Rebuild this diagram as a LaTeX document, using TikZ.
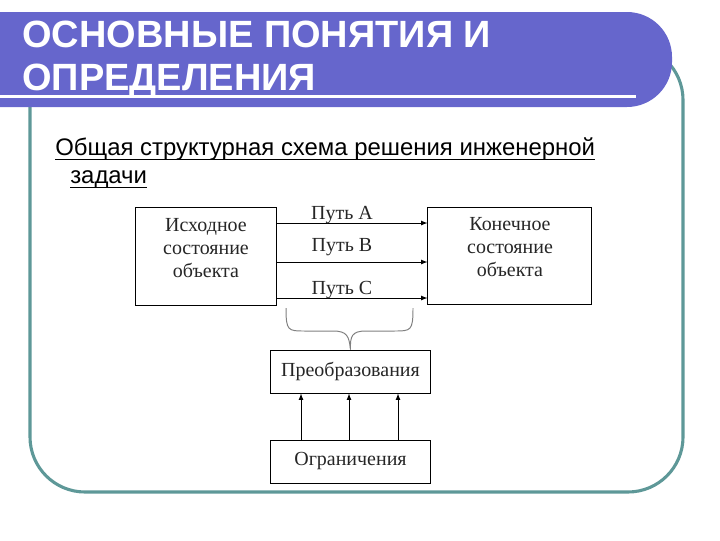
\documentclass[tikz,border=0pt]{standalone}
\usepackage{fontspec}
\setmainfont{Liberation Serif}
\newfontfamily\arialfont{Liberation Sans}
\usetikzlibrary{calc}
\definecolor{barblue}{RGB}{102,102,204}
\definecolor{frameteal}{RGB}{94,152,152}
\begin{document}
\begin{tikzpicture}[x=0.025cm,y=-0.025cm, >=latex,
  box/.style={draw, line width=0.7pt, inner sep=0},
  boxtext/.style={align=center, text=black!85, font=\fontsize{14.2}{16.4}\selectfont},
  pathlabel/.style={anchor=base, inner sep=0, text=black!85, font=\fontsize{14.2}{16}\selectfont},
  arr/.style={->, line width=0.6pt},
  title/.style={anchor=base west, inner sep=0, text=white, font=\arialfont\bfseries\fontsize{27}{32}\selectfont},
  sub/.style={anchor=base west, inner sep=0, font=\arialfont\fontsize{17}{20}\selectfont}]

  \useasboundingbox (0,0) rectangle (720,540);

  %ramme
	\draw[frameteal, line width=2.2pt, rounded corners=1.375cm] (30,45) rectangle (683,492);

  %overskrift
	\fill[barblue] (0,12) [rounded corners=1.125cm] -- (672,12) -- (672,107) [sharp corners] -- (0,107) -- cycle;
	\fill[white] (0,95) rectangle (636,98);
	\node[title] (t1) at (22,47) {ОСНОВНЫЕ ПОНЯТИЯ И};
	\node[title] (t2) at (22,90) {ОПРЕДЕЛЕНИЯ};

  %undertekst
	\node[sub] (s1) at (55,155) {Общая структурная схема решения инженерной};
	\node[sub] (s2) at (70,183) {задачи};
	\draw[line width=1pt] ([yshift=-3pt]s1.base west) -- ([yshift=-3pt]s1.base east);
	\draw[line width=1pt] ([yshift=-3pt]s2.base west) -- ([yshift=-3pt]s2.base east);

  %kasser
	\node[box, minimum width=3.5cm, minimum height=2.45cm] (src) at (206,256) {};
	\node[box, minimum width=4.075cm, minimum height=2.425cm] (dst) at (509.5,255.5) {};
	\node[box, minimum width=3.975cm, minimum height=1.075cm] (trans) at (350.5,371.5) {};
	\node[box, minimum width=3.975cm, minimum height=1.075cm] (lim) at (350.5,461.5) {};

	\node[boxtext] (srct) at (206,248) {Исходное\\состояние\\объекта};
	\node[boxtext] (dstt) at (510,247) {Конечное\\состояние\\объекта};
	\node[boxtext] (transt) at (trans.center) {Преобразования};
	\node[boxtext] (limt) at (lim.center) {Ограничения};

  %veje
	\foreach \y/\b/\t in {223/219/A, 262/251/B, 298/294/C}{
	  \draw[arr] (src.east |- 0,\y) -- (dst.west |- 0,\y);
	  \node[pathlabel] at (342,\b) {Путь \t};
	}

  %klamme
	\draw[gray, line width=0.7pt] (286,308) .. controls (286,331) and (288,331) .. (305,331) -- (333,331) .. controls (347,331) and (349,336) .. (trans.north);
	\draw[gray, line width=0.7pt] (413,308) .. controls (413,331) and (411,331) .. (394,331) -- (366,331) .. controls (352,331) and (350,336) .. (trans.north);

  %begraensninger
	\foreach \x in {301,349,398}
	  \draw[arr] (lim.north -| \x,0) -- (trans.south -| \x,0);

\end{tikzpicture}
\end{document}
